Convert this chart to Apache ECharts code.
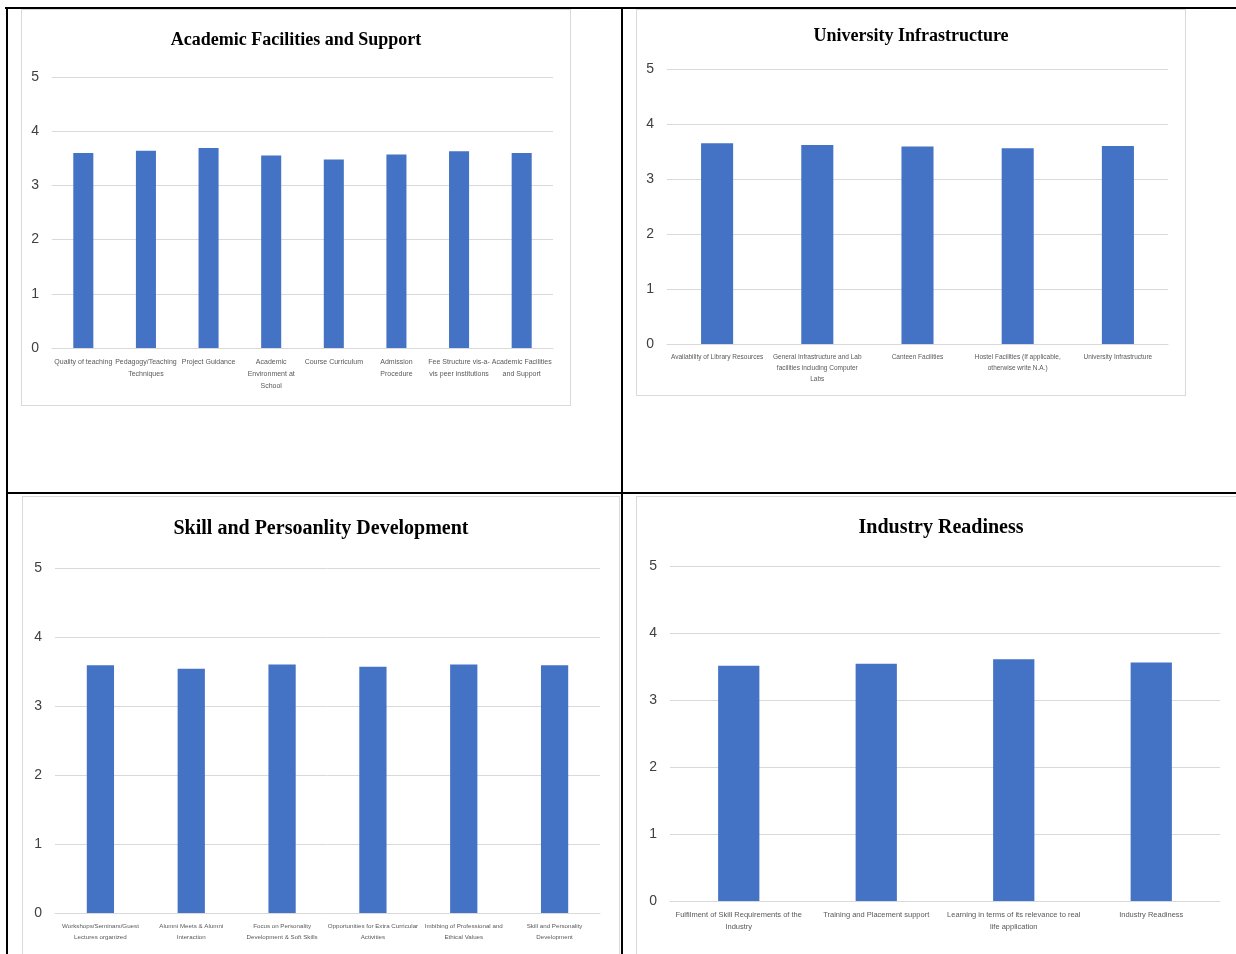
<!DOCTYPE html>
<html>
<head>
<meta charset="utf-8">
<script src="https://cdn.jsdelivr.net/npm/echarts@6/dist/echarts.min.js"></script>
<style>
  html, body { margin: 0; padding: 0; background: #fff; width: 1236px; height: 954px; overflow: hidden; position: relative; }
  .line { position: absolute; background: #000; }
  .frame { position: absolute; border: 1.5px solid #d9d9d9; box-sizing: border-box; background: #fff; }
</style>
</head>
<body>
<div class="line" style="left:5px; top:7px; width:1231px; height:2px;"></div>
<div class="line" style="left:6px; top:7px; width:2px; height:947px;"></div>
<div class="line" style="left:621px; top:7px; width:2px; height:947px;"></div>
<div class="line" style="left:6px; top:492px; width:1230px; height:2px;"></div>

<div id="c1" class="frame" style="left:21px; top:9px; width:550px; height:397px;"></div>
<div id="c2" class="frame" style="left:636px; top:9px; width:550px; height:387px;"></div>
<div id="c3" class="frame" style="left:22px; top:496px; width:598px; height:470px;"></div>
<div id="c4" class="frame" style="left:636px; top:496px; width:610px; height:470px;"></div>

<script>
// ---- Data ----
const title1 = 'Academic Facilities and Support';
const cats1 = ['Quality of teaching', 'Pedagogy/Teaching\nTechniques', 'Project Guidance', 'Academic\nEnvironment at\nSchool', 'Course Curriculum', 'Admission\nProcedure', 'Fee Structure vis-a-\nvis peer institutions', 'Academic Facilities\nand Support'];
const vals1 = [3.60, 3.64, 3.69, 3.55, 3.48, 3.57, 3.63, 3.60];

const title2 = 'University Infrastructure';
const cats2 = ['Availability of Library Resources', 'General Infrastructure and Lab\nfacilities including Computer\nLabs', 'Canteen Facilities', 'Hostel Facilities (If applicable,\notherwise write N.A.)', 'University Infrastructure'];
const vals2 = [3.65, 3.62, 3.59, 3.56, 3.60];

const title3 = 'Skill and Persoanlity Development';
const cats3 = ['Workshops/Seminars/Guest\nLectures organized', 'Alumni Meets & Alumni\nInteraction', 'Focus on Personality\nDevelopment & Soft Skills', 'Opportunities for Extra Curricular\nActivities', 'Imbibing of Professional and\nEthical Values', 'Skill and Personality\nDevelopment'];
const vals3 = [3.59, 3.54, 3.60, 3.57, 3.60, 3.59];

const title4 = 'Industry Readiness';
const cats4 = ['Fulfilment of Skill Requirements of the\nIndustry', 'Training and Placement support', 'Learning in terms of its relevance to real\nlife application', 'Industry Readiness'];
const vals4 = [3.51, 3.54, 3.61, 3.56];

const yTicks = [0, 1, 2, 3, 4, 5];

function makeOption(title, cats, vals, cfg) {
  return {
    animation: false,
    title: {
      text: title, left: 'center', top: cfg.titleTop,
      textStyle: { fontFamily: 'Liberation Serif', fontWeight: 'bold', fontSize: cfg.titleSize, color: '#000' }
    },
    grid: cfg.grid,
    xAxis: {
      type: 'category', data: cats,
      axisLine: { show: true, lineStyle: { color: '#d9d9d9', width: 1 } },
      axisTick: { show: false },
      axisLabel: {
        interval: 0, color: '#595959', fontSize: cfg.labelSize, fontFamily: 'Liberation Sans',
        lineHeight: cfg.lineHeight, margin: 8, align: 'center'
      }
    },
    yAxis: {
      type: 'value', min: yTicks[0], max: yTicks[yTicks.length - 1], interval: 1,
      axisLine: { show: false }, axisTick: { show: false },
      splitLine: { lineStyle: { color: '#d9d9d9', width: 1 } },
      axisLabel: { color: '#404040', fontSize: 14, fontFamily: 'Liberation Sans', margin: 13 }
    },
    series: [{
      type: 'bar', data: vals, barWidth: cfg.barWidth,
      itemStyle: { color: '#4472C4' }
    }]
  };
}

const specs = [
  ['c1', title1, cats1, vals1, { titleTop: 16, titleSize: 18, labelSize: 7, lineHeight: 12, barWidth: '32%', grid: { left: 30, right: 17, top: 67, bottom: 57 } }],
  ['c2', title2, cats2, vals2, { titleTop: 12, titleSize: 18, labelSize: 6.5, lineHeight: 11, barWidth: '32%', grid: { left: 30, right: 17, top: 59, bottom: 51 } }],
  ['c3', title3, cats3, vals3, { titleTop: 17, titleSize: 20, labelSize: 6.2, lineHeight: 11, barWidth: '30%', grid: { left: 32, right: 19, top: 71, bottom: 52 } }],
  ['c4', title4, cats4, vals4, { titleTop: 16, titleSize: 20, labelSize: 7.5, lineHeight: 12, barWidth: '30%', grid: { left: 33, right: 25, top: 69, bottom: 64 } }]
];

specs.forEach(s => {
  const chart = echarts.init(document.getElementById(s[0]), null, { renderer: 'canvas' });
  chart.setOption(makeOption(s[1], s[2], s[3], s[4]));
});
</script>
</body>
</html>
